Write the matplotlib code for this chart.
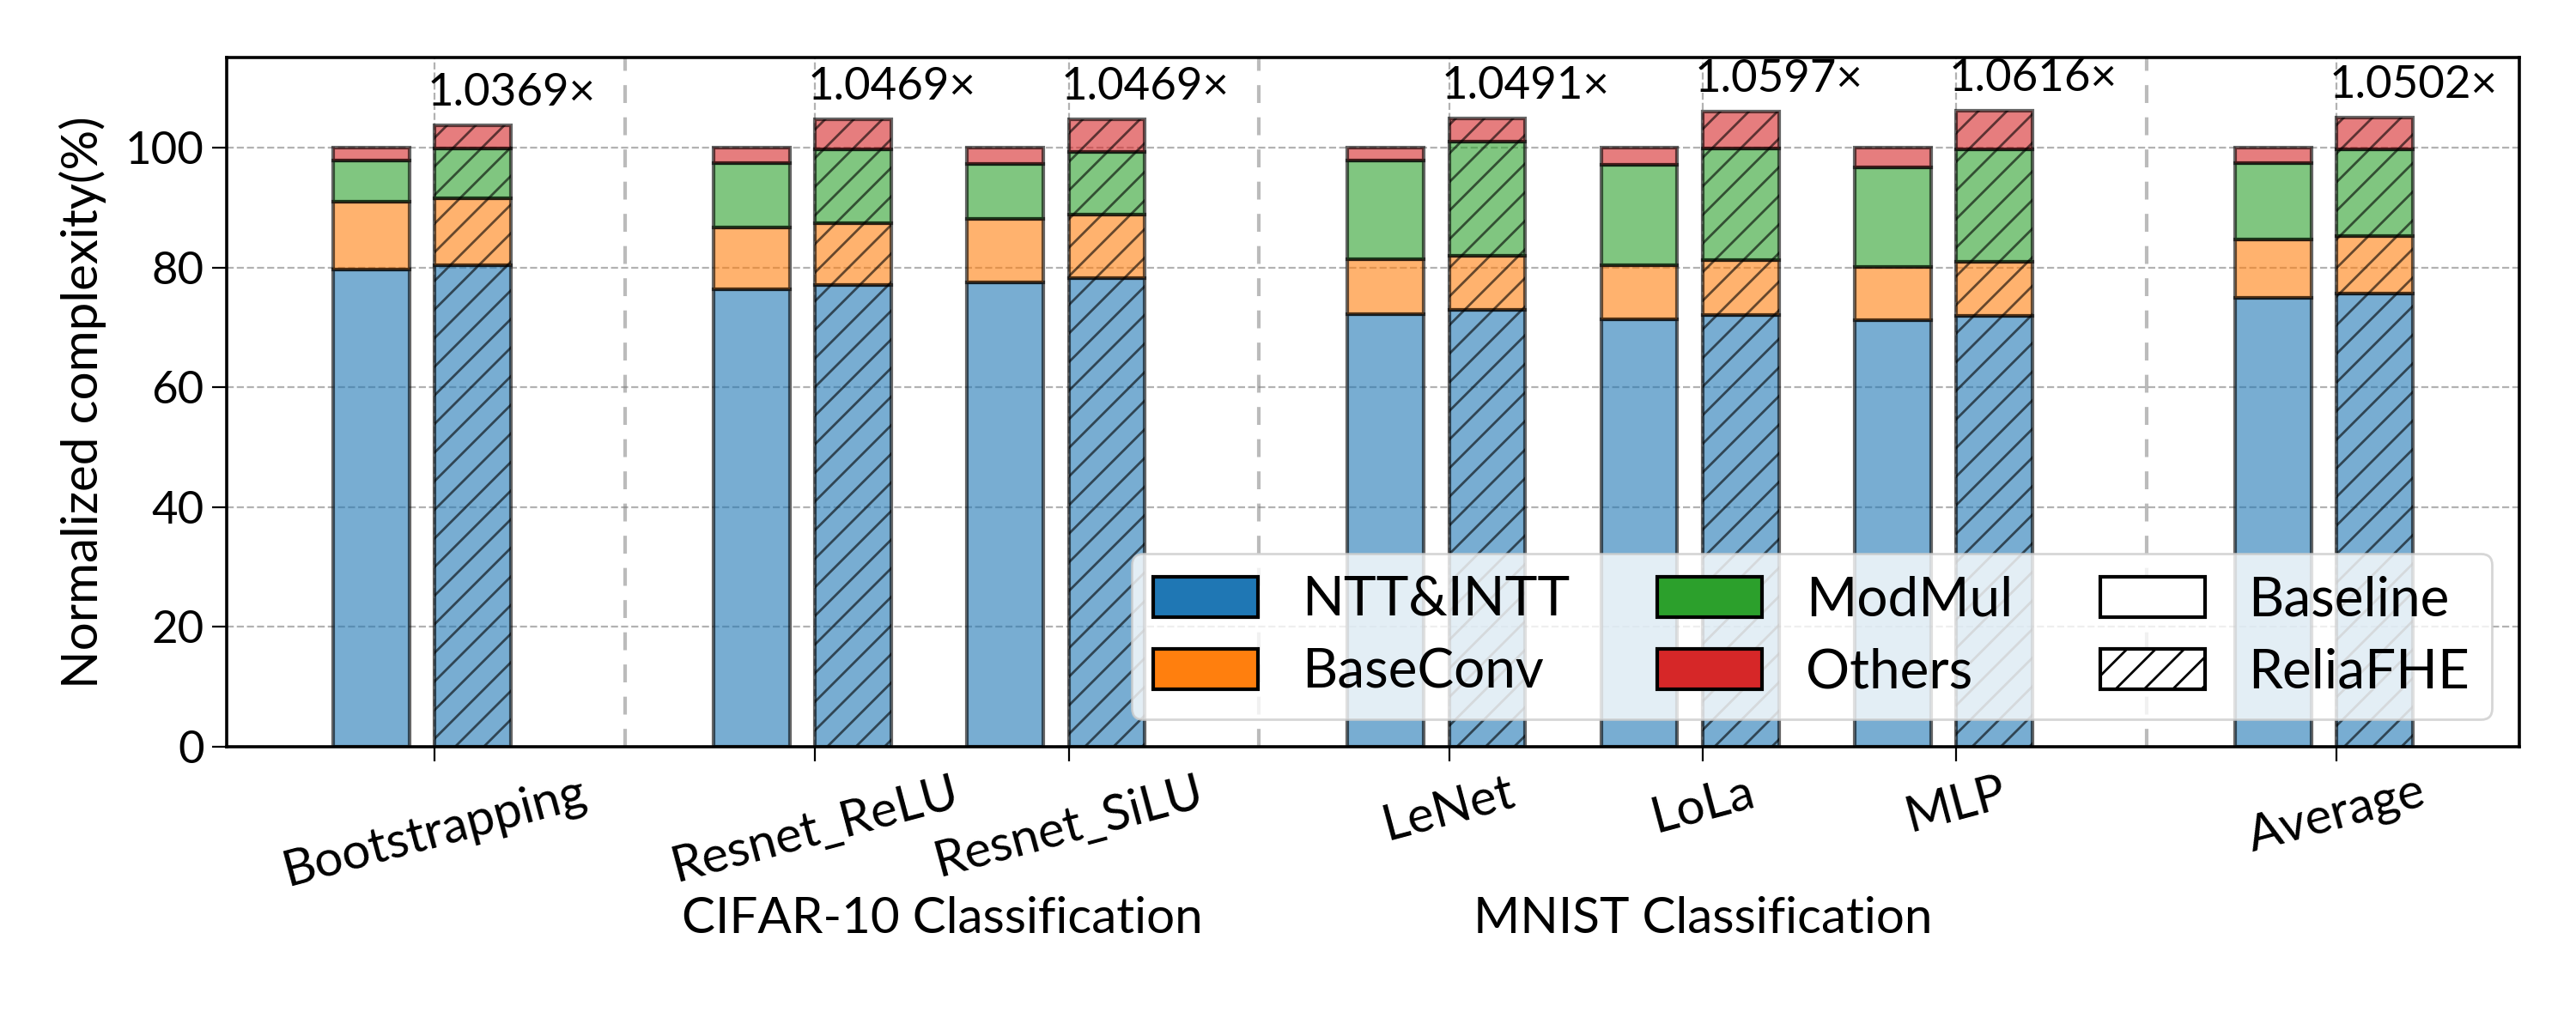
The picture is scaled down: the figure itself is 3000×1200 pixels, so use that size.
import matplotlib.pyplot as plt
import numpy as np
from matplotlib.patches import Patch

plt.rcParams['font.family'] = ['Lato', 'DejaVu Sans']
plt.rcParams['font.size'] = 20

# data
workloads = ['Bootstrapping', 'Resnet_ReLU', 'Resnet_SiLU', 'LeNet', 'LoLa', 'MLP', 'Average']
x_pos = [0, 1.5, 2.5, 4, 5, 6, 7.5]
ratios = ['1.0369×', '1.0469×', '1.0469×', '1.0491×', '1.0597×', '1.0616×', '1.0502×']

base_ntt = [79.6, 76.4, 77.5, 72.2, 71.3, 71.2, 74.9]
base_conv = [11.3, 10.3, 10.6, 9.1, 9.1, 8.9, 9.7]
base_mul = [7.0, 10.7, 9.2, 16.6, 16.7, 16.6, 12.8]
base_oth = [2.1, 2.6, 2.7, 2.1, 2.9, 3.3, 2.6]

relia_ntt = [80.4, 77.1, 78.2, 72.9, 72.1, 71.9, 75.6]
relia_conv = [11.2, 10.3, 10.6, 9.0, 9.1, 9.1, 9.7]
relia_mul = [8.2, 12.3, 10.4, 19.1, 18.7, 18.7, 14.4]
relia_oth = [3.9, 5.0, 5.5, 3.9, 6.1, 6.5, 5.3]

parts = ['NTT&INTT', 'BaseConv', 'ModMul', 'Others']
colors = ['tab:blue', 'tab:orange', 'tab:green', 'tab:red']

fig = plt.figure(figsize=(15, 6), dpi=200)
ax = fig.add_axes([0.088, 0.275, 0.89, 0.669])

x = np.array(x_pos)
w = 0.3

def stack(xs, segs, hatch):
    bottom = np.zeros(len(xs))
    for seg, c in zip(segs, colors):
        ax.bar(xs, seg, w, bottom=bottom, color=c, alpha=0.6, edgecolor='black',
               linewidth=1.5, hatch=hatch, align='edge')
        bottom += np.array(seg)
    return bottom

stack(x - 0.4, [base_ntt, base_conv, base_mul, base_oth], None)
tops = stack(x, [relia_ntt, relia_conv, relia_mul, relia_oth], '//')

for xi, t, lab in zip(x, tops, ratios):
    ax.text(xi - 0.03, t + 2.0, lab, ha='left', va='bottom', fontsize=19)

for d in [0.75, 3.25, 6.75]:
    ax.axvline(d, color='#bbbbbb', linestyle=(0, (5, 4)), linewidth=1.5, zorder=0)

ax.set_axisbelow(True)
ax.grid(True, linestyle='--', color='gray', alpha=0.6, linewidth=0.8)
ax.set_ylim(0, 115)
ax.set_xlim(-0.82, 8.22)
ax.set_xticks(x)
ax.set_xticklabels(workloads, rotation=15, ha='center', fontsize=21)
ax.tick_params(axis='y', labelsize=19)
ax.tick_params(length=6)
ax.set_ylabel('Normalized complexity(%)', fontsize=21, labelpad=8)
for s in ax.spines.values():
    s.set_linewidth(1.3)

ax.text(2.0, -0.25, 'CIFAR-10 Classification', transform=ax.get_xaxis_transform(),
        ha='center', va='center', fontsize=21)
ax.text(5.0, -0.25, 'MNIST Classification', transform=ax.get_xaxis_transform(),
        ha='center', va='center', fontsize=21)

handles = [Patch(facecolor=c, edgecolor='black', linewidth=1.5) for c in colors]
handles += [Patch(facecolor='white', edgecolor='black', linewidth=1.5),
            Patch(facecolor='white', edgecolor='black', linewidth=1.5, hatch='//')]
labels = parts + ['Baseline', 'ReliaFHE']
ax.legend(handles, labels, ncol=3, loc='lower right', handlelength=1.9, handleheight=0.75,
          handletextpad=0.8, columnspacing=1.6, labelspacing=0.4, fontsize=23,
          framealpha=0.8)

fig.savefig('out.png', dpi=200)
